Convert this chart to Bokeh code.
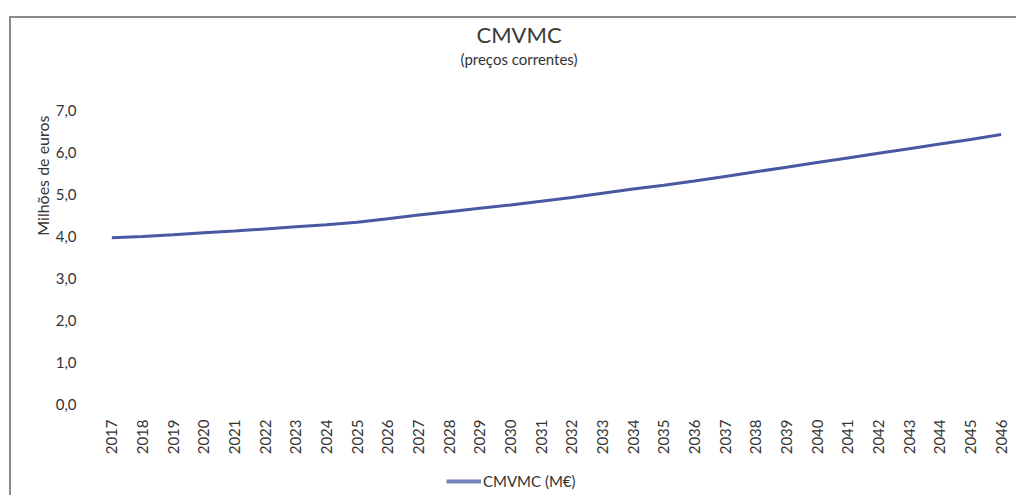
import math
from bokeh.plotting import figure
from bokeh.layouts import column
from bokeh.models import FactorRange, Range1d, Legend, Title, FixedTicker, CustomJSTickFormatter
from bokeh.embed import file_html
from bokeh.resources import INLINE

years = [str(y) for y in range(2017, 2047)]
values = [3.97, 4.00, 4.04, 4.09, 4.13, 4.18, 4.23, 4.28, 4.34, 4.42,
          4.51, 4.59, 4.67, 4.75, 4.84, 4.93, 5.03, 5.13, 5.22, 5.32,
          5.43, 5.54, 5.65, 5.76, 5.87, 5.98, 6.09, 6.20, 6.31, 6.43]
y_ticks = [0, 1, 2, 3, 4, 5, 6, 7]
series_name = "CMVMC (M€)"
title_text = "CMVMC"
subtitle_text = "(preços correntes)"
y_label = "Milhões de euros"

FONT = "Lato"
TXT = "#333333"
LINE = "#4a58a2"

p = figure(width=1005, height=439, x_range=FactorRange(*years), y_range=Range1d(0, 7),
           output_backend="svg", toolbar_location=None, title=None,
           min_border_left=85, min_border_right=0, min_border_top=0, min_border_bottom=50)

r = p.line(x=years, y=values, line_color=LINE, line_width=3)

# spacer between frame and subtitle
p.add_layout(Title(text=" ", text_font=FONT, text_font_size="1px", standoff=40), "above")
p.add_layout(Title(text=subtitle_text, align="left", offset=364, text_font=FONT, text_font_size="15px",
                   text_font_style="normal", text_color=TXT, standoff=0), "above")
p.add_layout(Title(text=title_text, align="left", offset=380, text_font=FONT, text_font_size="22px",
                   text_font_style="normal", text_color="#3a3a3a", standoff=0), "above")

p.xgrid.grid_line_color = None
p.ygrid.grid_line_color = None
p.outline_line_color = None

p.yaxis.ticker = FixedTicker(ticks=y_ticks)
p.yaxis.formatter = CustomJSTickFormatter(code="return tick.toFixed(1).replace('.', ',');")
p.yaxis.axis_line_color = None
p.yaxis.major_tick_line_color = None
p.yaxis.minor_tick_line_color = None
p.yaxis.major_label_text_font = FONT
p.yaxis.major_label_text_font_size = "15px"
p.yaxis.major_label_text_color = TXT
p.yaxis.major_label_standoff = 14

p.add_layout(Title(text=y_label, align="right", offset=5, text_font=FONT, text_font_size="16px",
                   text_font_style="normal", text_color=TXT, standoff=2), "left")

p.xaxis.axis_line_color = None
p.xaxis.major_tick_line_color = None
p.xaxis.minor_tick_line_color = None
p.xaxis.major_label_orientation = math.pi / 2
p.xaxis.major_label_text_font = FONT
p.xaxis.major_label_text_font_size = "15px"
p.xaxis.major_label_text_color = TXT
p.xaxis.major_label_standoff = 9

# legend strip below the chart (its series lies outside this strip's ranges, so only the legend shows)
p2 = figure(width=1005, height=38, x_range=Range1d(0, 1), y_range=Range1d(0, 1),
            output_backend="svg", toolbar_location=None, title=None,
            x_axis_location=None, y_axis_location=None, min_border=0)
p2.xgrid.grid_line_color = None
p2.ygrid.grid_line_color = None
p2.outline_line_color = None
r2 = p2.line(x=[int(y) for y in years], y=values, line_color=LINE, line_width=4, line_alpha=0.75)
legend = Legend(items=[(series_name, [r2])], orientation="horizontal", location=(350, 4),
                label_text_font=FONT, label_text_font_size="15px", label_text_color=TXT,
                border_line_color=None, background_fill_alpha=0, glyph_width=35,
                label_standoff=2, padding=4, margin=0)
p2.add_layout(legend)

layout = column(p, p2, spacing=0, margin=(16, 0, 0, 9),
                styles={"border-top": "2px solid #8a8a8a", "border-left": "2px solid #8a8a8a"})

open("out.html", "w").write(file_html(layout, INLINE))
